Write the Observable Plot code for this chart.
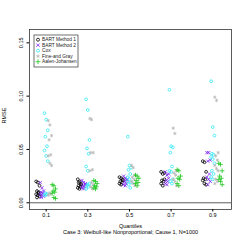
<!DOCTYPE html>
<html>
<head>
<meta charset="utf-8">
<script src="https://cdn.jsdelivr.net/npm/d3@7"></script>
<script src="https://cdn.jsdelivr.net/npm/@observablehq/plot@0.6"></script>
<style>
html,body{margin:0;padding:0;background:#fff;}
#chart svg{display:block;font-family:"Liberation Sans",Arial,sans-serif;}
</style>
</head>
<body>
<div id="chart"></div>
<script>
const quantiles = [0.1, 0.3, 0.5, 0.7, 0.9];
const tickLabels = ["0.1", "0.3", "0.5", "0.7", "0.9"];
const yTicks = [0, 0.05, 0.10, 0.15];
const methods = ["BART Method 1", "BART Method 2", "Cox", "Fine-and Gray", "Aalen-Johansen"];
const caption = "Case 3: Weibull-like Nonproportional; Cause 1, N=1000";

// RMSE values per quantile (0.1,0.3,0.5,0.7,0.9) for each method
const bart1 = [
  [0.020, 0.019, 0.016, 0.011, 0.009, 0.008, 0.007, 0.006, 0.005, 0.010],
  [0.022, 0.020, 0.018, 0.016, 0.015, 0.014, 0.013, 0.017, 0.019],
  [0.024, 0.023, 0.021, 0.020, 0.019, 0.018, 0.017, 0.022],
  [0.029, 0.027, 0.022, 0.021, 0.020, 0.018, 0.016, 0.028],
  [0.039, 0.038, 0.029, 0.023, 0.022, 0.021, 0.018, 0.017]
];
const bart2 = [
  [0.019, 0.014, 0.011, 0.010, 0.009, 0.008, 0.007, 0.006, 0.005],
  [0.021, 0.019, 0.017, 0.016, 0.015, 0.014, 0.013, 0.018],
  [0.025, 0.023, 0.021, 0.020, 0.018, 0.017, 0.016, 0.022],
  [0.029, 0.026, 0.023, 0.021, 0.020, 0.018, 0.017, 0.027],
  [0.047, 0.047, 0.040, 0.039, 0.027, 0.024, 0.022, 0.020, 0.017]
];
const cox = [
  [0.084, 0.078, 0.068, 0.062, 0.053, 0.049, 0.044, 0.039, 0.009, 0.008, 0.007, 0.0075],
  [0.097, 0.087, 0.059, 0.051, 0.046, 0.034, 0.030, 0.018, 0.016, 0.015, 0.013, 0.017],
  [0.062, 0.035, 0.033, 0.031, 0.027, 0.024, 0.022, 0.019, 0.017, 0.014, 0.020],
  [0.106, 0.053, 0.052, 0.047, 0.034, 0.030, 0.029, 0.022, 0.020, 0.018],
  [0.114, 0.071, 0.063, 0.046, 0.045, 0.043, 0.041, 0.037, 0.030, 0.027, 0.024, 0.022]
];
const fineGray = [
  [0.077, 0.073, 0.063, 0.059, 0.045, 0.044, 0.037, 0.035, 0.009, 0.008, 0.007],
  [0.079, 0.078, 0.047, 0.047, 0.031, 0.030, 0.019, 0.017, 0.015, 0.013],
  [0.035, 0.033, 0.026, 0.024, 0.022, 0.020, 0.018, 0.016],
  [0.070, 0.065, 0.030, 0.028, 0.026, 0.022, 0.020, 0.016],
  [0.099, 0.096, 0.047, 0.044, 0.040, 0.035, 0.032, 0.030, 0.022, 0.020, 0.018]
];
const aalenJ = [
  [0.017, 0.016, 0.013, 0.011, 0.010, 0.009, 0.005, 0.004],
  [0.021, 0.020, 0.018, 0.016, 0.015, 0.014, 0.013],
  [0.026, 0.025, 0.023, 0.021, 0.019, 0.018, 0.016],
  [0.031, 0.030, 0.025, 0.023, 0.022, 0.018, 0.016],
  [0.037, 0.036, 0.030, 0.025, 0.023, 0.022, 0.020, 0.017]
];

const series = [bart1, bart2, cox, fineGray, aalenJ];
const colors = ["#000000", "#7a1ff0", "#33e8f5", "#b8b8b8", "#1ec81e"];
const symbols = ["circle", "times", "circle", "asterisk", "plus"];
const offsets = [-0.04, -0.02, 0, 0.018, 0.037];

const rows = [];
series.forEach((s, m) => {
  s.forEach((vals, qi) => {
    vals.forEach((v, i) => {
      rows.push({method: methods[m], m, q: quantiles[qi], x: quantiles[qi] + offsets[m] + (((i * 7) % 5) - 2) * 0.004, rmse: v});
    });
  });
});

const dotMarks = methods.map((name, m) => {
  const d = rows.filter(r => r.m === m);
  if (symbols[m] === "circle") {
    return Plot.dot(d, {x: "x", y: "rmse", r: 1.4, stroke: colors[m], strokeWidth: 0.8, fill: "none"});
  }
  return Plot.dot(d, {x: "x", y: "rmse", r: 1.6, symbol: symbols[m], stroke: colors[m], strokeWidth: 0.8});
});

const chart = Plot.plot({
  width: 245,
  height: 245,
  marginLeft: 29,
  marginRight: 14,
  marginTop: 29,
  marginBottom: 36,
  style: {fontSize: "5.5px", fontFamily: "Liberation Sans, Arial, sans-serif", background: "#fff"},
  x: {domain: [0.02, 0.99]},
  y: {domain: [-0.0063, 0.1625]},
  marks: [
    Plot.ruleY([0], {stroke: "#333", strokeWidth: 0.8}),
    ...dotMarks,
    Plot.frame({stroke: "#333", strokeWidth: 0.8}),
    Plot.axisX({ticks: quantiles, tickFormat: (d, i) => tickLabels[i], tickSize: 2.5, tickPadding: 1, label: null}),
    Plot.axisY({ticks: yTicks, tickFormat: d3.format(".2f"), tickSize: 2.5, tickPadding: 4, tickRotate: -90, label: null}),
    Plot.text(["Quantiles"], {frameAnchor: "bottom", dy: 18, fontSize: 5.5}),
    Plot.text([caption], {frameAnchor: "bottom", dy: 24.5, fontSize: 5.5}),
    Plot.text(["RMSE"], {frameAnchor: "left", dx: -25, dy: 4, rotate: -90, fontSize: 5.5})
  ]
});

// legend (base-R style box in the top left)
const svg = d3.select(chart);
const lg = svg.append("g").attr("transform", "translate(34,35)").attr("text-anchor", "start");
lg.append("rect").attr("width", 44).attr("height", 32).attr("fill", "#fff").attr("stroke", "#333").attr("stroke-width", 0.7);
const symMap = {circle: d3.symbolCircle, times: d3.symbolTimes, asterisk: d3.symbolAsterisk, plus: d3.symbolPlus};
methods.forEach((name, m) => {
  const yy = 4.7 + m * 5.5;
  lg.append("path")
    .attr("d", d3.symbol(symMap[symbols[m]], symbols[m] === "circle" ? 7 : 9)())
    .attr("transform", `translate(4,${yy})`)
    .attr("fill", "none")
    .attr("stroke", colors[m])
    .attr("stroke-width", 0.8);
  lg.append("text").attr("x", 8).attr("y", yy).attr("dy", "0.35em")
    .attr("text-anchor", "start")
    .attr("font-size", 4.8).attr("fill", "#222").text(name);
});

document.getElementById("chart").appendChild(chart);
</script>
</body>
</html>
